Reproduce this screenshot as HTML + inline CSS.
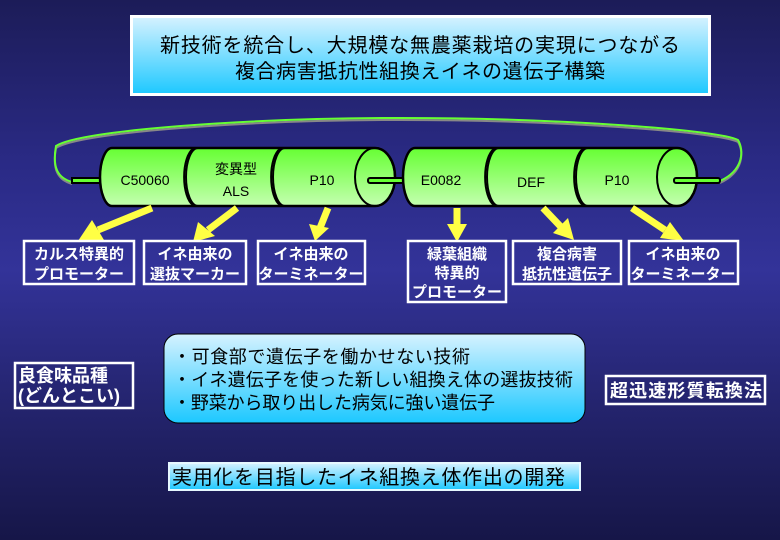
<!DOCTYPE html>
<html><head><meta charset="utf-8"><style>
html,body{margin:0;padding:0}
body{width:780px;height:540px;overflow:hidden;background:linear-gradient(#1c1c58 0%,#2a2a85 30%,#333399 50%,#24246e 75%,#161648 100%);font-family:"Liberation Sans","Noto Sans CJK JP",sans-serif}
svg{display:block}
</style></head><body>
<svg width="780" height="540" viewBox="0 0 780 540" xmlns="http://www.w3.org/2000/svg" font-family="Liberation Sans, Noto Sans CJK JP, sans-serif">
<defs>
<linearGradient id="tb" x1="0" y1="0" x2="0" y2="1"><stop offset="0" stop-color="#d6f2ff"/><stop offset="1" stop-color="#1cc8ff"/></linearGradient>
<linearGradient id="cy" x1="0" y1="0" x2="0" y2="1"><stop offset="0" stop-color="#66ff33"/><stop offset="1" stop-color="#c4ffb0"/></linearGradient>
</defs>
<rect x="131.5" y="16.5" width="578" height="78" fill="url(#tb)" stroke="#fff" stroke-width="3"/>
<text x="420" y="52" text-anchor="middle" font-size="20" fill="#000" textLength="520">新技術を統合し、大規模な無農薬栽培の実現につながる</text>
<text x="420" y="78" text-anchor="middle" font-size="20" fill="#000" textLength="370">複合病害抵抗性組換えイネの遺伝子構築</text>
<path d="M72,182 C58,178 52,168 56,146 C80,130 250,118 400,118 C560,118 720,130 738,140 C744,150 744,170 720,181" fill="none" stroke="#888" stroke-width="2" transform="translate(0,2)"/>
<path d="M72,182 C58,178 52,168 56,146 C80,130 250,118 400,118 C560,118 720,130 738,140 C744,150 744,170 720,181" fill="none" stroke="#66ff33" stroke-width="2"/>
<g stroke="#000" stroke-width="2">
<rect x="72" y="178" width="32" height="5" fill="#66ff33"/>
<path d="M112,148 L375,148 A20,29 0 0 1 375,206 L112,206 A12,29 0 0 1 112,148 Z" fill="url(#cy)" stroke-width="2.5"/>
<path d="M198,148 A12,29 0 0 0 198,206" fill="none"/>
<path d="M193,149 A12,29 0 0 0 193,205" fill="none"/>
<path d="M285,148 A12,29 0 0 0 285,206" fill="none"/>
<path d="M280,149 A12,29 0 0 0 280,205" fill="none"/>
<ellipse cx="375" cy="177" rx="20" ry="29" fill="none"/>
<rect x="368" y="178" width="36" height="5" rx="2" fill="#66ff33"/>
</g>
<text x="145" y="185" text-anchor="middle" font-size="14">C50060</text>
<text x="236" y="174" text-anchor="middle" font-size="14">変異型</text>
<text x="236" y="196" text-anchor="middle" font-size="14">ALS</text>
<text x="322" y="185" text-anchor="middle" font-size="14">P10</text>
<g stroke="#000" stroke-width="2">
<path d="M415,148 L677,148 A20,29 0 0 1 677,206 L415,206 A12,29 0 0 1 415,148 Z" fill="url(#cy)" stroke-width="2.5"/>
<path d="M499,148 A12,29 0 0 0 499,206" fill="none"/>
<path d="M494,149 A12,29 0 0 0 494,205" fill="none"/>
<path d="M588,148 A12,29 0 0 0 588,206" fill="none"/>
<path d="M583,149 A12,29 0 0 0 583,205" fill="none"/>
<ellipse cx="677" cy="177" rx="20" ry="29" fill="none"/>
<rect x="674" y="178" width="46" height="5" rx="2" fill="#66ff33"/>
</g>
<text x="441" y="185" text-anchor="middle" font-size="14">E0082</text>
<text x="531" y="187" text-anchor="middle" font-size="14">DEF</text>
<text x="617" y="185" text-anchor="middle" font-size="14">P10</text>
<g stroke="#ffff44" stroke-width="7" fill="#ffff44">
<line x1="152" y1="208" x2="98" y2="230"/>
<line x1="237" y1="208" x2="208" y2="230"/>
<line x1="328" y1="208" x2="320" y2="228"/>
<line x1="457" y1="208" x2="457" y2="228"/>
<line x1="543" y1="208" x2="562" y2="228"/>
<line x1="632" y1="208" x2="665" y2="230"/>
</g>
<g fill="#ffff44">
<polygon points="78,241 92,220 104,240"/>
<polygon points="193,242 198,222 215,236"/>
<polygon points="315,241 309,224 329,228"/>
<polygon points="457,242 447,224 467,224"/>
<polygon points="574,240 553,233 568,218"/>
<polygon points="684,241 660,238 670,222"/>
</g>
<g fill="none" stroke="#fff" stroke-width="2.5">
<rect x="24" y="241" width="110" height="43"/>
<rect x="144" y="241" width="102" height="43"/>
<rect x="258" y="241" width="107" height="43"/>
<rect x="408" y="241" width="98" height="61"/>
<rect x="513" y="241" width="108" height="43"/>
<rect x="629" y="241" width="109" height="43"/>
</g>
<g fill="#fff" font-size="15" font-weight="bold" text-anchor="middle">
<text x="79" y="259">カルス特異的</text><text x="79" y="279">プロモーター</text>
<text x="195" y="259">イネ由来の</text><text x="195" y="279">選抜マーカー</text>
<text x="311" y="259">イネ由来の</text><text x="311" y="279">ターミネーター</text>
<text x="457" y="259">緑葉組織</text><text x="457" y="278">特異的</text><text x="457" y="297">プロモーター</text>
<text x="567" y="259">複合病害</text><text x="567" y="279">抵抗性遺伝子</text>
<text x="683" y="259">イネ由来の</text><text x="683" y="279">ターミネーター</text>
</g>
<rect x="15" y="363" width="118" height="45" fill="none" stroke="#fff" stroke-width="2.5"/>
<text x="18" y="382" fill="#fff" font-size="18" font-weight="bold">良食味品種</text>
<text x="18" y="402" fill="#fff" font-size="18" font-weight="bold">(どんとこい)</text>
<rect x="164" y="334" width="421" height="89" rx="14" fill="url(#tb)" stroke="#000" stroke-width="1"/>
<g font-size="18" fill="#000">
<text x="173" y="363" textLength="297">・可食部で遺伝子を働かせない技術</text>
<text x="173" y="386" textLength="400">・イネ遺伝子を使った新しい組換え体の選抜技術</text>
<text x="173" y="409" textLength="322">・野菜から取り出した病気に強い遺伝子</text>
</g>
<rect x="606" y="376" width="159" height="28" fill="none" stroke="#fff" stroke-width="2.5"/>
<text x="686" y="397" text-anchor="middle" fill="#fff" font-size="18" font-weight="bold" textLength="152">超迅速形質転換法</text>
<rect x="169" y="463" width="411" height="27" fill="url(#tb)" stroke="#e6f8ff" stroke-width="2"/>
<text x="172" y="484" fill="#000" font-size="20" textLength="393">実用化を目指したイネ組換え体作出の開発</text>
</svg>
</body></html>
